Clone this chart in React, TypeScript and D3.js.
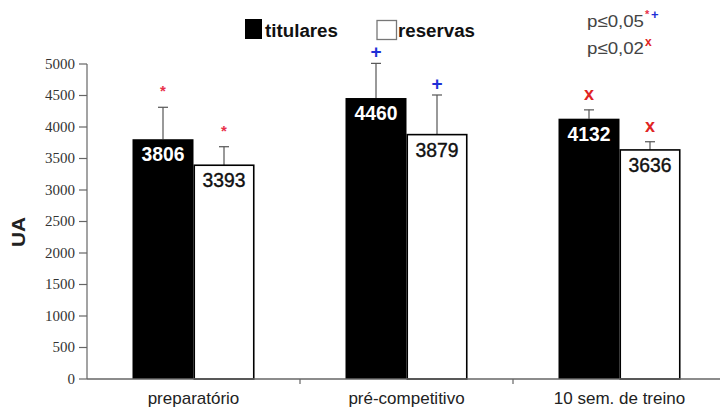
import React from "react";
import * as d3 from "d3";

const categories = ["preparatório", "pré-competitivo", "10 sem. de treino"];
const series = ["titulares", "reservas"];
const titulares = [3806, 4460, 4132];
const reservas = [3393, 3879, 3636];
const titularesSD = [507, 550, 140];
const reservasSD = [294, 629, 130];
const markers = ["*", "+", "x"];
const yTicks = [0, 500, 1000, 1500, 2000, 2500, 3000, 3500, 4000, 4500, 5000];

const W = 720;
const H = 408;
const markerColor: Record<string, string> = { "*": "#e8304a", "+": "#1f2fd6", x: "#e02424" };
const markerOffset: Record<string, number> = { "*": 19, "+": 11, x: 16 };

export default function App() {
  const x = d3.scaleBand().domain(categories).range([87, 726]).paddingInner(0).paddingOuter(0);
  const y = d3.scaleLinear().domain([0, 5000]).range([379, 64]);
  const barW = 61;
  const axisColor = "#666";
  const sans = "'Liberation Sans', Arial, sans-serif";
  const serif = "'Liberation Serif', Tinos, 'Nimbus Roman', 'Noto Serif', 'DejaVu Serif', FreeSerif, serif";

  const bars: any[] = [];
  categories.forEach((c, i) => {
    const center = (x(c) as number) + x.bandwidth() / 2;
    [titulares[i], reservas[i]].forEach((v, j) => {
      const sd = j === 0 ? titularesSD[i] : reservasSD[i];
      const x0 = center - barW + j * barW;
      bars.push({ c, i, j, v, sd, x0, cx: x0 + barW / 2 });
    });
  });

  return (
    <svg width={W} height={H} style={{ position: "absolute", left: 0, top: 0, background: "#fff" }}>
      <rect width={W} height={H} fill="#fff" />
      {/* y axis */}
      <line x1={87} x2={87} y1={y(5000)} y2={y(0)} stroke={axisColor} strokeWidth={1.2} />
      {yTicks.map((t) => (
        <g key={t}>
          <line x1={79} x2={87} y1={y(t)} y2={y(t)} stroke={axisColor} strokeWidth={1.2} />
          <text
            x={75}
            y={y(t) + 4.5}
            textAnchor="end"
            style={{ fontFamily: serif, fontSize: "15px" }}
            fill="#333"
          >
            {t}
          </text>
        </g>
      ))}
      <text
        transform={`translate(25,232) rotate(-90)`}
        textAnchor="middle"
        style={{ fontFamily: sans, fontWeight: "bold", fontSize: "18px" }}
        fill="#222"
        textLength={30}
        lengthAdjust="spacingAndGlyphs"
      >
        UA
      </text>
      {/* bars */}
      {bars.map((b) => (
        <g key={`${b.i}-${b.j}`}>
          <line x1={b.cx} x2={b.cx} y1={y(b.v)} y2={y(b.v + b.sd)} stroke="#555" strokeWidth={1.2} />
          <line x1={b.cx - 5} x2={b.cx + 5} y1={y(b.v + b.sd)} y2={y(b.v + b.sd)} stroke="#555" strokeWidth={1.2} />
          <rect
            x={b.x0 + (b.j === 1 ? 0.75 : 0)}
            y={y(b.v)}
            width={barW - (b.j === 1 ? 1.5 : 0)}
            height={y(0) - y(b.v)}
            fill={b.j === 0 ? "#000" : "#fff"}
            stroke="#000"
            strokeWidth={b.j === 0 ? 0 : 1.6}
          />
          <text
            x={b.cx}
            y={y(b.v) + 22}
            textAnchor="middle"
            style={{ fontFamily: sans, fontWeight: b.j === 0 ? "bold" : "normal", fontSize: "20px" }}
            fill={b.j === 0 ? "#fff" : "#111"}
            textLength={43}
            lengthAdjust="spacingAndGlyphs"
            stroke={b.j === 0 ? "none" : "#111"}
            strokeWidth={0.4}
          >
            {b.v}
          </text>
          <text
            x={b.cx}
            y={y(b.v + b.sd) - markerOffset[markers[b.i]] + (markers[b.i] === "*" ? 8 : 6)}
            textAnchor="middle"
            style={{
              fontFamily: sans,
              fontWeight: "bold",
              fontSize: `${markers[b.i] === "x" ? 18 : markers[b.i] === "+" ? 19 : 15}px`,
            }}
            fill={markerColor[markers[b.i]]}
          >
            {markers[b.i]}
          </text>
        </g>
      ))}
      {/* x axis */}
      <line x1={87} x2={720} y1={y(0)} y2={y(0)} stroke={axisColor} strokeWidth={1.4} />
      {categories.map((c, i) =>
        i > 0 ? (
          <line key={c} x1={x(c) as number} x2={x(c) as number} y1={y(0)} y2={y(0) + 5} stroke={axisColor} strokeWidth={1.2} />
        ) : null
      )}
      {categories.map((c) => (
        <text
          key={c}
          x={(x(c) as number) + x.bandwidth() / 2}
          y={404}
          textAnchor="middle"
          style={{ fontFamily: sans, fontSize: "17px" }}
          fill="#222"
        >
          {c}
        </text>
      ))}
      {/* legend */}
      <rect x={245} y={19} width={17} height={20} fill="#000" />
      <text x={265} y={37} style={{ fontFamily: sans, fontWeight: "bold", fontSize: "18px" }} fill="#111" textLength={73} lengthAdjust="spacingAndGlyphs">
        {series[0]}
      </text>
      <rect x={377} y={20.5} width={19.5} height={19} fill="#fff" stroke="#777" strokeWidth={1.3} />
      <text x={398} y={37} style={{ fontFamily: sans, fontWeight: "bold", fontSize: "18px" }} fill="#111" textLength={77} lengthAdjust="spacingAndGlyphs">
        {series[1]}
      </text>
      {/* significance note */}
      <text x={587} y={26.5} style={{ fontFamily: sans, fontSize: "17px" }} fill="#444" textLength={57} lengthAdjust="spacingAndGlyphs">
        p≤0,05
      </text>
      <text x={645} y={18} style={{ fontFamily: sans, fontWeight: "bold", fontSize: "11px" }} fill={markerColor["*"]}>*</text>
      <text x={651} y={19} style={{ fontFamily: sans, fontWeight: "bold", fontSize: "13px" }} fill={markerColor["+"]}>+</text>
      <text x={587} y={53.5} style={{ fontFamily: sans, fontSize: "17px" }} fill="#444" textLength={57} lengthAdjust="spacingAndGlyphs">
        p≤0,02
      </text>
      <text x={645} y={46} style={{ fontFamily: sans, fontWeight: "bold", fontSize: "12px" }} fill={markerColor["x"]}>x</text>
    </svg>
  );
}
